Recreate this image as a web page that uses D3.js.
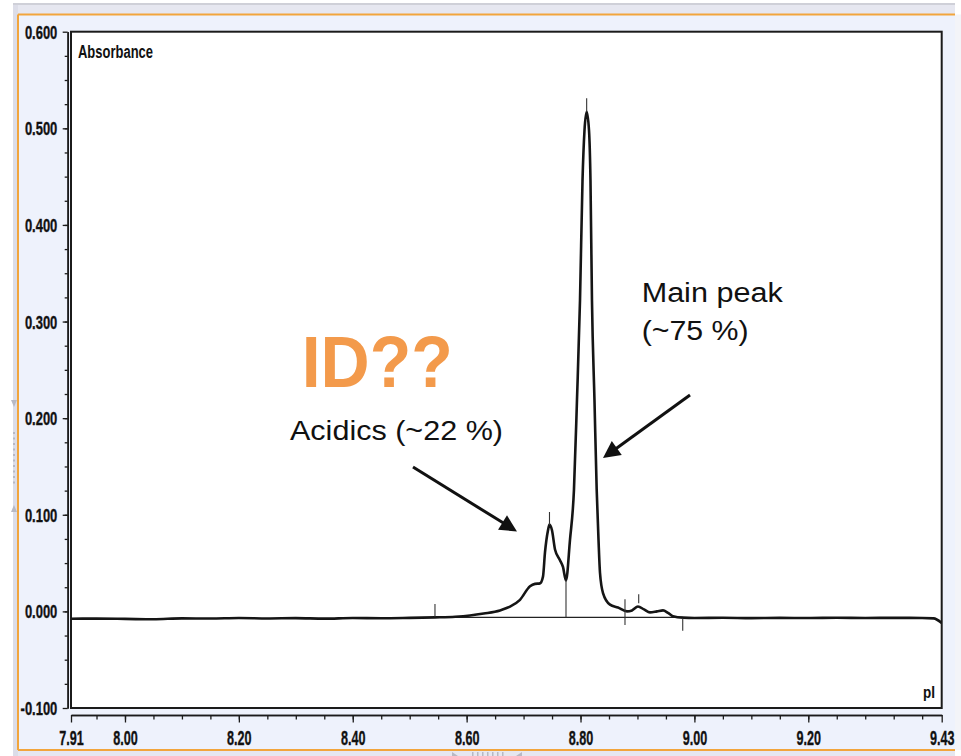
<!DOCTYPE html>
<html><head><meta charset="utf-8">
<script src="https://cdn.jsdelivr.net/npm/d3@7"></script>
<style>html,body{margin:0;padding:0;background:#fff;} svg{display:block}</style>
</head><body>
<svg id="chart" width="961" height="756"></svg>
<script>
// ---------------- data ----------------
const pIValues = [7.9052, 7.95, 8.00, 8.05, 8.10, 8.15, 8.20, 8.25, 8.30, 8.35, 8.40, 8.45, 8.50, 8.5444, 8.58, 8.6059, 8.63, 8.6586, 8.6703, 8.6762, 8.6937, 8.7113, 8.7201, 8.7288, 8.7341, 8.7376, 8.7429, 8.7455, 8.7499, 8.7552, 8.7639, 8.7692, 8.7745, 8.7815, 8.7885, 8.7938, 8.7991, 8.8035, 8.8070, 8.8108, 8.8149, 8.8175, 8.8201, 8.8245, 8.8284, 8.8316, 8.8342, 8.8395, 8.8518, 8.8658, 8.8816, 8.8904, 8.9009, 8.9115, 8.9220, 8.9343, 8.9449, 8.9536, 8.9624, 8.9800, 9.00, 9.05, 9.10, 9.15, 9.20, 9.25, 9.30, 9.35, 9.40, 9.42, 9.4343];
const absorbance = [-0.0076, -0.0075, -0.0078, -0.0082, -0.0072, -0.0074, -0.0069, -0.0073, -0.0070, -0.0075, -0.0069, -0.0071, -0.0067, -0.0062, -0.0055, -0.0042, -0.0022, 0.0010, 0.0035, 0.0050, 0.0120, 0.0260, 0.0285, 0.0290, 0.0360, 0.0610, 0.0840, 0.0900, 0.0840, 0.0640, 0.0530, 0.0460, 0.0320, 0.0740, 0.1260, 0.2190, 0.3220, 0.4460, 0.4980, 0.5172, 0.4980, 0.4460, 0.3220, 0.2190, 0.1260, 0.0740, 0.0400, 0.0190, 0.0070, 0.0040, 0.0000, 0.0010, 0.0050, 0.0020, -0.0010, 0.0000, 0.0010, -0.0015, -0.0050, -0.0065, -0.0068, -0.0066, -0.0070, -0.0067, -0.0069, -0.0066, -0.0068, -0.0067, -0.0068, -0.0072, -0.0120];

const markerPI     = [8.5444, 8.7455, 8.7745, 8.8108, 8.8781, 8.9022, 8.9795];
const markerTop    = [0.0077, 0.1029, 0.0325, 0.5310, 0.0125, 0.0177, -0.0071];
const markerBottom = [-0.0055, 0.0894, -0.0062, 0.5172, -0.0141, 0.0084, -0.0200];
const integrationStart = 8.5444, integrationEnd = 8.9795, integrationLevel = -0.0063;

const xDomain = [7.9052, 9.4343];
const yDomain = [-0.1, 0.6];
const xTickValues = [7.9052, 8.00, 8.20, 8.40, 8.60, 8.80, 9.00, 9.20, 9.4343];
const xTickLabels = ["7.91", "8.00", "8.20", "8.40", "8.60", "8.80", "9.00", "9.20", "9.43"];
const xMinorTicks = d3.range(7.95, 9.43, 0.05).map(v => +v.toFixed(2));
const yTickValues = [-0.1, 0.0, 0.1, 0.2, 0.3, 0.4, 0.5, 0.6];
const yTickLabels = ["-0.100", "0.000", "0.100", "0.200", "0.300", "0.400", "0.500", "0.600"];
const yMinorTicks = d3.range(-0.075, 0.6, 0.025).map(v => +v.toFixed(3));

// annotations (data coordinates)
const annoTexts = [
  {text: "ID??", x: 8.3103, y: 0.2326, size: 72, weight: "bold", color: "#F39A4B", len: 151},
  {text: "Acidics (~22 %)", x: 8.2898, y: 0.1774, size: 27, weight: "normal", color: "#111", len: 213},
  {text: "Main peak", x: 8.9074, y: 0.3206, size: 27, weight: "normal", color: "#111", len: 141},
  {text: "(~75 %)", x: 8.9074, y: 0.2809, size: 27, weight: "normal", color: "#111", len: 107}
];
const arrows = [
  {x1: 8.5058, y1: 0.1495, x2: 8.6884, y2: 0.0827},
  {x1: 8.9923, y1: 0.2240, x2: 8.8395, y2: 0.1588}
];

// ---------------- drawing ----------------
const svg = d3.select("#chart");
const W = 961, H = 756;
const plotL = 71, plotR = 941.7, plotT = 31.7, plotB = 708;

// window chrome
svg.append("rect").attr("x",0).attr("y",0).attr("width",W).attr("height",H).attr("fill","#ffffff");
svg.append("rect").attr("x",13).attr("y",3).attr("width",942).attr("height",2).attr("fill","#cfd0d8");
svg.append("rect").attr("x",13).attr("y",5).attr("width",942).attr("height",10).attr("fill","#e6e7f0");
svg.append("rect").attr("x",13).attr("y",5).attr("width",5).attr("height",H-5).attr("fill","#dcdde8");
svg.append("rect").attr("x",18).attr("y",750).attr("width",937).attr("height",6).attr("fill","#e6e7f0");
svg.append("rect").attr("x",18).attr("y",14.5).attr("width",937).attr("height",735.5).attr("fill","#eef2fc");
svg.append("rect").attr("x",955).attr("y",14.5).attr("width",6).attr("height",735.5).attr("fill","#f3f4f8");
const orange = "#f2a53c";
svg.append("line").attr("x1",18).attr("x2",955).attr("y1",14.5).attr("y2",14.5).attr("stroke",orange).attr("stroke-width",2);
svg.append("line").attr("x1",18).attr("x2",955).attr("y1",750).attr("y2",750).attr("stroke",orange).attr("stroke-width",2);
svg.append("line").attr("x1",18).attr("x2",18).attr("y1",14.5).attr("y2",750).attr("stroke",orange).attr("stroke-width",2);
// small scroll glyphs
const chrome = svg.append("g").attr("fill","#b8b9c4");
chrome.append("path").attr("d","M11,400 L17,400 L14,407 Z");
chrome.append("path").attr("d","M11,512 L17,512 L14,505 Z");
d3.range(0,10).forEach(i => chrome.append("rect").attr("x",13).attr("y",432+i*5.5).attr("width",2).attr("height",2));
chrome.append("path").attr("d","M452,752 L452,756 L458,756 Z");
chrome.append("path").attr("d","M522,752 L522,756 L516,756 Z");
d3.range(0,7).forEach(i => chrome.append("rect").attr("x",472+i*5).attr("y",752).attr("width",1.5).attr("height",4));

const x = d3.scaleLinear().domain(xDomain).range([plotL, plotR]);
const y = d3.scaleLinear().domain(yDomain).range([plotB, plotT]);

// plot area
svg.append("rect").attr("x",plotL).attr("y",plotT).attr("width",plotR-plotL).attr("height",plotB-plotT)
  .attr("fill","#ffffff").attr("stroke","#1b1b1b").attr("stroke-width",2);

const fontAxis = "'Liberation Sans', Arial, sans-serif";

// y axis
const yAxisX = 67.7;
const yMinor = svg.append("g").attr("transform",`translate(${yAxisX},0)`)
  .call(d3.axisLeft(y).tickValues(yMinorTicks).tickSize(3).tickSizeOuter(0).tickFormat(""));
const yAx = svg.append("g").attr("transform",`translate(${yAxisX},0)`)
  .call(d3.axisLeft(y).tickValues(yTickValues).tickSize(5).tickSizeOuter(0)
        .tickFormat((d,i) => yTickLabels[i]));
[yMinor, yAx].forEach(g => {
  g.selectAll("path.domain").attr("stroke","#1b1b1b").attr("stroke-width",1.6);
  g.selectAll(".tick line").attr("stroke","#1b1b1b").attr("stroke-width",1.3);
});
const ySx = 0.72;
yAx.selectAll(".tick text").attr("x",-10.4/ySx).attr("dy","0.36em")
  .attr("font-family",fontAxis).attr("font-size",18).attr("font-weight","bold")
  .attr("fill","#111").attr("stroke","#111").attr("stroke-width",0.35)
  .attr("text-anchor","end").attr("transform",`scale(${ySx},1)`);

// x axis
const xAxisY = 715;
const xMinor = svg.append("g").attr("transform",`translate(0,${xAxisY})`)
  .call(d3.axisBottom(x).tickValues(xMinorTicks).tickSize(4.5).tickSizeOuter(0).tickFormat(""));
const xAx = svg.append("g").attr("transform",`translate(0,${xAxisY})`)
  .call(d3.axisBottom(x).tickValues(xTickValues).tickSize(7.5).tickSizeOuter(0)
        .tickFormat((d,i) => xTickLabels[i]));
[xMinor, xAx].forEach(g => {
  g.selectAll("path.domain").attr("stroke","#1b1b1b").attr("stroke-width",1.6);
  g.selectAll(".tick line").attr("stroke","#1b1b1b").attr("stroke-width",1.3);
});
xAx.selectAll(".tick text").attr("y",29.6).attr("dy",0)
  .attr("font-family",fontAxis).attr("font-size",21).attr("font-weight","bold")
  .attr("fill","#111").attr("stroke","#111").attr("stroke-width",0.35)
  .attr("text-anchor","middle").attr("transform","scale(0.6,1)");

// axis titles inside plot
svg.append("text").attr("x",78).attr("y",57.7).text("Absorbance")
  .attr("font-family",fontAxis).attr("font-size",18).attr("font-weight","bold")
  .attr("textLength",75).attr("lengthAdjust","spacingAndGlyphs").attr("fill","#111");
svg.append("text").attr("x",923).attr("y",697.7).text("pI")
  .attr("font-family",fontAxis).attr("font-size",16.5).attr("font-weight","bold")
  .attr("textLength",12).attr("lengthAdjust","spacingAndGlyphs").attr("fill","#111");

// data
const pts = pIValues.map((v,i) => [v, absorbance[i]]);
svg.append("clipPath").attr("id","plotclip").append("rect")
  .attr("x",plotL).attr("y",plotT).attr("width",plotR-plotL).attr("height",plotB-plotT);
const plot = svg.append("g").attr("clip-path","url(#plotclip)");

plot.append("line")
  .attr("x1",x(integrationStart)).attr("x2",x(integrationEnd))
  .attr("y1",y(integrationLevel)).attr("y2",y(integrationLevel))
  .attr("stroke","#222").attr("stroke-width",1.2);

plot.append("path").datum(pts)
  .attr("d", d3.line().x(d => x(d[0])).y(d => y(d[1])).curve(d3.curveMonotoneX))
  .attr("fill","none").attr("stroke","#151515").attr("stroke-width",2.6).attr("stroke-linejoin","round");

plot.selectAll("line.marker").data(markerPI).join("line").attr("class","marker")
  .attr("x1",d => x(d)).attr("x2",d => x(d))
  .attr("y1",(d,i) => y(markerTop[i])).attr("y2",(d,i) => y(markerBottom[i]))
  .attr("stroke","#333").attr("stroke-width",1.1);

// annotations
svg.selectAll("text.anno").data(annoTexts).join("text").attr("class","anno")
  .attr("x",d => x(d.x)).attr("y",d => y(d.y)).text(d => d.text)
  .attr("font-family","'Liberation Sans', Arial, sans-serif")
  .attr("font-size",d => d.size).attr("font-weight",d => d.weight).attr("fill",d => d.color)
  .attr("textLength",d => d.len).attr("lengthAdjust","spacingAndGlyphs");

arrows.forEach(a => {
  const x1 = x(a.x1), y1 = y(a.y1), x2 = x(a.x2), y2 = y(a.y2);
  const ang = Math.atan2(y2 - y1, x2 - x1);
  const L = 17, Wd = 8.5;
  const bx = x2 - L*Math.cos(ang), by = y2 - L*Math.sin(ang);
  svg.append("line").attr("x1",x1).attr("y1",y1).attr("x2",bx + 2*Math.cos(ang)).attr("y2",by + 2*Math.sin(ang))
    .attr("stroke","#111").attr("stroke-width",3);
  const p1 = [bx + Wd*Math.sin(ang), by - Wd*Math.cos(ang)];
  const p2 = [bx - Wd*Math.sin(ang), by + Wd*Math.cos(ang)];
  svg.append("path").attr("d",`M${x2},${y2} L${p1[0]},${p1[1]} L${p2[0]},${p2[1]} Z`).attr("fill","#111");
});
</script>
</body></html>
